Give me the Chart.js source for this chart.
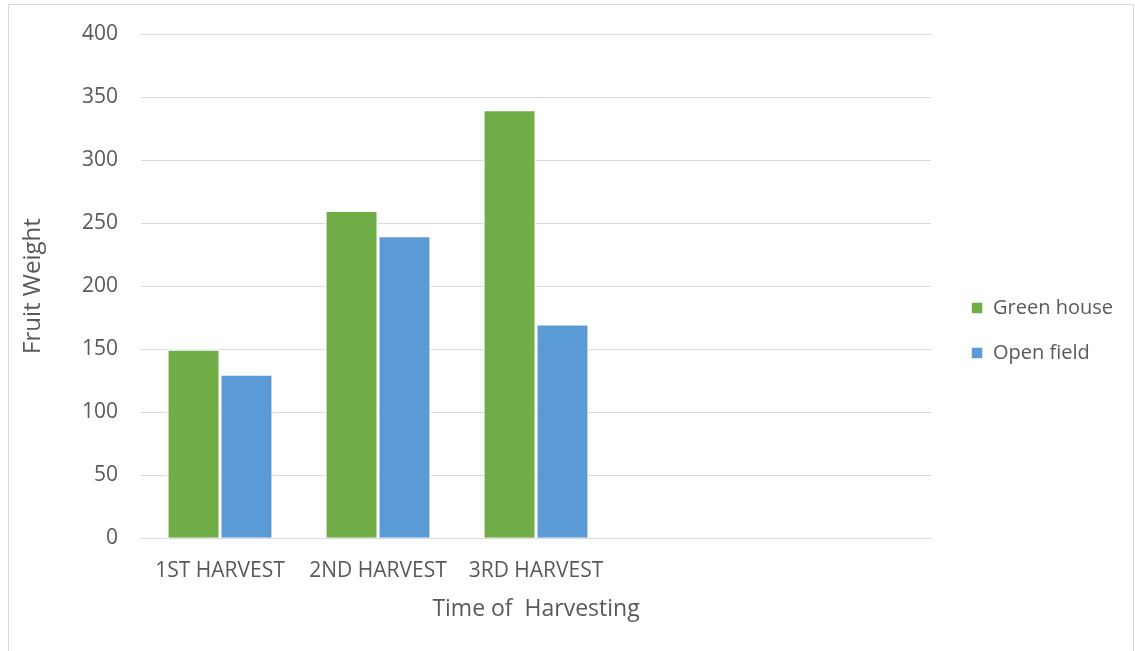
<!DOCTYPE html>
<html>
<head>
<meta charset="utf-8">
<script src="https://cdn.jsdelivr.net/npm/chart.js@4/dist/chart.umd.min.js"></script>
<style>
  body { margin: 0; background: #fff; }
  #box {
    position: absolute; left: 8px; top: 4px;
    width: 1124px; height: 650px;
    border: 1px solid #d9d9d9;
  }
</style>
</head>
<body>
<div id="box"><canvas id="myChart"></canvas></div>
<script>
// two empty slots keep the axis as wide as the original sheet range
const harvests = ['1ST HARVEST', '2ND HARVEST', '3RD HARVEST', '', ''];
const greenHouse = [150, 260, 340];
const openField = [130, 240, 170];
const yTicks = [0, 50, 100, 150, 200, 250, 300, 350, 400];

const textColor = '#595959';
const gridColor = '#d9d9d9';
const fontFamily = '"Open Sans", sans-serif';

document.addEventListener("DOMContentLoaded", () => {
    const ctx = document.getElementById('myChart').getContext('2d');

    new Chart(ctx, {
        type: 'bar',
        data: {
            labels: harvests,
            datasets: [{
                label: 'Green house',
                data: greenHouse,
                backgroundColor: '#70ad47',
                borderColor: '#ffffff',
                borderWidth: 1.5
            }, {
                label: 'Open field',
                data: openField,
                backgroundColor: '#5b9bd5',
                borderColor: '#ffffff',
                borderWidth: 1.5
            }]
        },
        options: {
            responsive: true,
            maintainAspectRatio: false,
            animation: false,
            datasets: {
                bar: { categoryPercentage: 0.67, barPercentage: 1 }
            },
            layout: {
                padding: { top: 29, right: 10, bottom: 28, left: 10 }
            },
            plugins: {
                tooltip: { enabled: false },
                legend: {
                    position: 'right',
                    labels: {
                        boxWidth: 12,
                        boxHeight: 12,
                        padding: 25,
                        color: textColor,
                        font: { family: fontFamily, size: 20 }
                    }
                }
            },
            scales: {
                x: {
                    grid: { display: false },
                    border: { display: false },
                    ticks: {
                        color: textColor,
                        maxRotation: 0,
                        autoSkip: false,
                        padding: 12,
                        font: { family: fontFamily, size: 21 }
                    },
                    title: {
                        display: true,
                        text: 'Time of  Harvesting',
                        color: textColor,
                        padding: { top: 0, bottom: 4 },
                        font: { family: fontFamily, size: 23 }
                    }
                },
                y: {
                    min: 0,
                    max: 400,
                    afterBuildTicks: (scale) => {
                        scale.ticks = yTicks.map(v => ({ value: v }));
                    },
                    afterFit: (scale) => {
                        scale.width = 122;
                        // the wide tick padding should not push the plot down
                        scale.paddingTop = 12;
                        scale.paddingBottom = 12;
                    },
                    grid: { color: gridColor, drawTicks: false },
                    border: { display: false },
                    ticks: {
                        color: textColor,
                        padding: 23,
                        font: { family: fontFamily, size: 21 }
                    },
                    title: {
                        display: true,
                        text: 'Fruit Weight',
                        color: textColor,
                        padding: { top: 0, bottom: 0 },
                        font: { family: fontFamily, size: 24 }
                    }
                },
                // spacer between the plot and the legend
                gap: {
                    position: 'right',
                    display: true,
                    grid: { display: false },
                    border: { display: false },
                    ticks: { display: false },
                    afterFit: (scale) => { scale.width = 15; }
                }
            }
        }
    });
});
</script>
</body>
</html>
